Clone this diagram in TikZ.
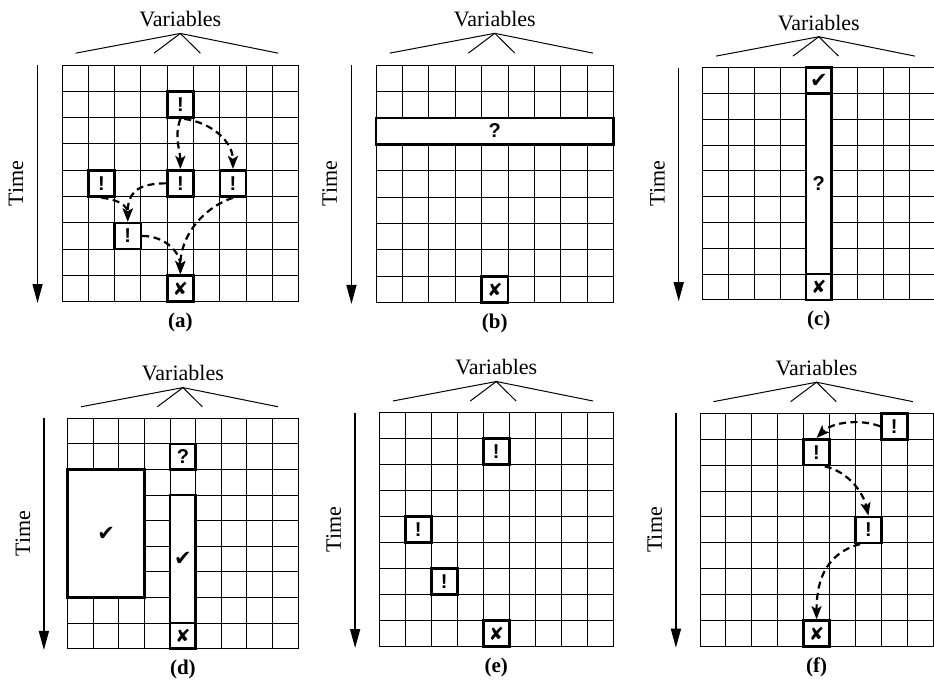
\documentclass[tikz,border=0pt]{standalone}
\usepackage{fontspec}
\setmainfont{Liberation Serif}
\newfontfamily\bangfont{Liberation Sans}
\newfontfamily\dingfont{DejaVu Sans}
\usetikzlibrary{arrows.meta}
\usetikzlibrary{fit}
\newcommand{\passmark}{{\dingfont\fontsize{21}{21}\selectfont ✔}}
\newcommand{\failmark}{{\dingfont\fontsize{18}{18}\selectfont ✘}}

\tikzset{
  panel a/.style={shift={(62,65)},x=26.3pt,y=-26.3pt},
  panel b/.style={shift={(376,65)},x=26.4pt,y=-26.4pt},
  panel c/.style={shift={(702.7,67.7)},x=25.8pt,y=-25.8pt},
  panel d/.style={shift={(67.7,418.3)},x=25.6pt,y=-25.6pt},
  panel e/.style={shift={(379.3,412.7)},x=26pt,y=-26pt},
  panel f/.style={shift={(700,413.3)},x=25.9pt,y=-25.9pt},
}

\begin{document}
\begin{tikzpicture}[x=1pt,y=-1pt,font=\fontsize{22}{26}\selectfont,
    gridline/.style={line width=1pt,line cap=rect},
    brace/.style={line width=1pt},
    timeaxis/.style={line width=1.5pt,-{Triangle[length=19pt,width=10pt]}},
    flagcell/.style={draw,line width=2.6pt,fill=white,inner sep=0pt,
      label={[font=\bangfont\bfseries\fontsize{20}{20}\selectfont]center:#1}},
    flow/.style={line width=2.2pt,dash pattern=on 7pt off 4.5pt,
      -{Stealth[length=13pt,width=10pt,inset=3pt]}}]
  \useasboundingbox (0,0) rectangle (934,683);

  % the six grids with their axes
  \foreach \p in {a,b,c,d,e,f}{
    \begin{scope}[panel \p]
      \foreach \i in {0,...,9}{
        \draw[gridline] (\i,0) -- (\i,9);
        \draw[gridline] (0,\i) -- (9,\i);
      }
      \draw[brace] (0.52,-0.45) -- (4.5,-1.2) -- (8.22,-0.45);
      \draw[brace] (3.5,-0.45) -- (4.5,-1.2) -- (5.26,-0.45);
      \node[anchor=base] (var \p) at (4.5,-1.46) {Variables};
      \coordinate (t0 \p) at (-0.93,0);
      \coordinate (t1 \p) at (-0.93,9.05);
      \draw[timeaxis] (t0 \p) -- (t1 \p);
      \node[rotate=90] (time \p) at (-1.75,4.5) {Time};
      \node[font=\bfseries\fontsize{21}{24}\selectfont] (lab \p) at (4.5,9.8) {(\p)};
    \end{scope}
  }

  % (a)
  \begin{scope}[panel a]
    \node[flagcell=!,fit={(4,1)(5,2)}] (a1) {};
    \node[flagcell=!,fit={(1,4)(2,5)}] (a2) {};
    \node[flagcell=!,fit={(4,4)(5,5)}] (a3) {};
    \node[flagcell=!,fit={(6,4)(7,5)}] (a4) {};
    \node[flagcell=!,fit={(2,6)(3,7)}] (a5) {};
    \node[flagcell=\failmark,fit={(4,8)(5,9)}] (a6) {};
    \draw[flow] (a1.south) .. controls +(-0.25,0.7) and +(0,-0.7) .. (a3.north);
    \draw[flow] (a1.-75) .. controls +(1.1,0.15) and +(0,-1) .. (a4.north);
    \draw[flow] (a3.west) .. controls +(-1.2,0) and +(0,-1) .. (a5.north);
    \draw[flow] (a2.south) .. controls +(0.6,0.05) and +(0,-0.6) .. (a5.north);
    \draw[flow] (a5.east) .. controls +(0.9,0) and +(0,-0.8) .. (a6.north);
    \draw[flow] (a4.south) .. controls +(-1.2,0.4) and +(0,-1.4) .. (a6.north);
  \end{scope}

  % (b)
  \begin{scope}[panel b]
    \node[flagcell=?,fit={(0,2)(9,3)}] (b1) {};
    \node[flagcell=\failmark,fit={(4,8)(5,9)}] (b2) {};
  \end{scope}

  % (c)
  \begin{scope}[panel c]
    \node[flagcell=\passmark,fit={(4,0)(5,1)}] (c1) {};
    \node[flagcell=?,fit={(4,1)(5,8)},every label/.append style={yshift=10pt}] (c2) {};
    \node[flagcell=\failmark,fit={(4,8)(5,9)}] (c3) {};
  \end{scope}

  % (d)
  \begin{scope}[panel d]
    \node[flagcell=?,fit={(4,1)(5,2)}] (d1) {};
    \node[flagcell=\passmark,fit={(0,2)(3,7)}] (d2) {};
    \node[flagcell=\passmark,fit={(4,3)(5,8)}] (d3) {};
    \node[flagcell=\failmark,fit={(4,8)(5,9)}] (d4) {};
  \end{scope}

  % (e)
  \begin{scope}[panel e]
    \node[flagcell=!,fit={(4,1)(5,2)}] (e1) {};
    \node[flagcell=!,fit={(1,4)(2,5)}] (e2) {};
    \node[flagcell=!,fit={(2,6)(3,7)}] (e3) {};
    \node[flagcell=\failmark,fit={(4,8)(5,9)}] (e4) {};
  \end{scope}

  % (f)
  \begin{scope}[panel f]
    \node[flagcell=!,fit={(7,0)(8,1)}] (f1) {};
    \node[flagcell=!,fit={(4,1)(5,2)}] (f2) {};
    \node[flagcell=!,fit={(6,4)(7,5)}] (f3) {};
    \node[flagcell=\failmark,fit={(4,8)(5,9)}] (f4) {};
    \draw[flow] (f1.west) .. controls +(-0.8,-0.3) and +(0.6,-0.6) .. (f2.north);
    \draw[flow] (f2.-60) .. controls +(0.9,0.2) and +(-0.2,-0.9) .. (f3.north);
    \draw[flow] (f3.-120) .. controls +(-1.5,0.4) and +(0,-1.2) .. (f4.north);
  \end{scope}
\end{tikzpicture}
\end{document}
